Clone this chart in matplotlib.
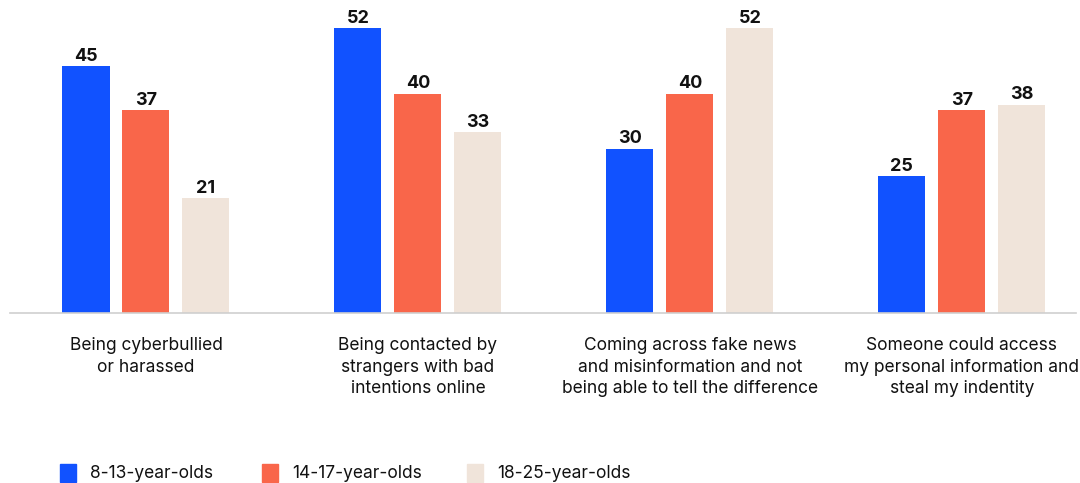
import matplotlib
matplotlib.use("Agg")
import matplotlib.pyplot as plt
from matplotlib.patches import Rectangle
import numpy as np

categories = [
    "Being cyberbullied\nor harassed",
    "Being contacted by\nstrangers with bad\nintentions online",
    "Coming across fake news\nand misinformation and not\nbeing able to tell the difference",
    "Someone could access\nmy personal information and\nsteal my indentity",
]
series_names = ["8-13-year-olds", "14-17-year-olds", "18-25-year-olds"]
age_8_13 = [45, 52, 30, 25]
age_14_17 = [37, 40, 40, 37]
age_18_25 = [21, 33, 52, 38]
colors = ["#1152FF", "#F9664A", "#F0E4DA"]

plt.rcParams["font.family"] = ["Inter", "DejaVu Sans"]

fig = plt.figure(figsize=(10.8, 4.83), dpi=100)
ax = fig.add_axes([10 / 1080, 1 - 313 / 483, 1066 / 1080, 313 / 483])

x = np.arange(len(categories))
width = 0.173
step = 0.2206
for i, (vals, col) in enumerate(zip([age_8_13, age_14_17, age_18_25], colors)):
    pos = x + (i - 1) * step
    ax.bar(pos, vals, width=width, color=col, zorder=2)
    for p, v in zip(pos, vals):
        ax.text(p, v + 0.25, f"{v}", ha="center", va="bottom",
                fontsize=13, fontweight="bold", color="#111111")

ax.set_xlim(-0.5, 3.42)
ax.set_ylim(0, 57.1)
for s in ["top", "right", "left"]:
    ax.spines[s].set_visible(False)
ax.spines["bottom"].set_color("#cfcfcf")
ax.spines["bottom"].set_linewidth(1.2)
ax.set_yticks([])
ax.set_xticks(x)
ax.set_xticklabels(categories, fontsize=12.5, color="#111111", linespacing=1.38)
ax.tick_params(axis="x", length=0, pad=17)

# legend drawn in figure pixels
legend_x = [60, 262, 467]
for lx, name, col in zip(legend_x, series_names, colors):
    fig.patches.append(Rectangle((lx / 1080, (483 - 482) / 483), 16 / 1080, 18 / 483,
                                 transform=fig.transFigure, color=col))
    fig.text((lx + 30) / 1080, (483 - 473) / 483, name, fontsize=12.5,
             va="center", ha="left", color="#111111")

fig.savefig("out.png", dpi=100)
